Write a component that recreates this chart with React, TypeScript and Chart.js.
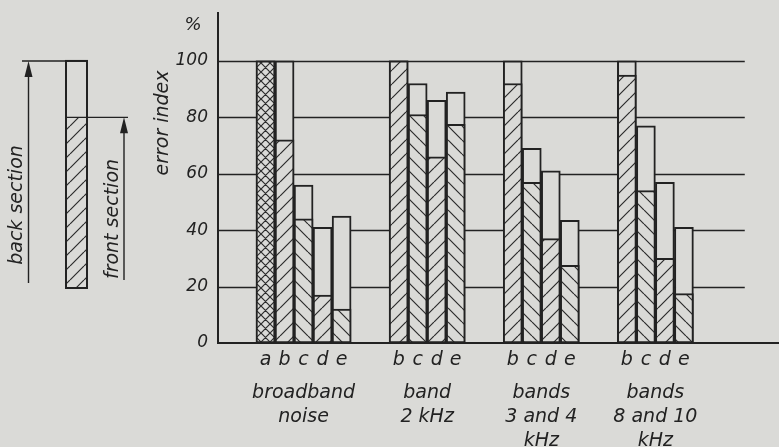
import React, { useEffect, useRef } from 'react';
import { Chart, registerables } from 'chart.js';

Chart.register(...registerables);

// ---- data ----
const groupLabels: string[][] = [
  ['broadband', 'noise'],
  ['band', '2 kHz'],
  ['bands', '3 and 4', 'kHz'],
  ['bands', '8 and 10', 'kHz'],
];
const groupLetters: string[][] = [
  ['a', 'b', 'c', 'd', 'e'],
  ['b', 'c', 'd', 'e'],
  ['b', 'c', 'd', 'e'],
  ['b', 'c', 'd', 'e'],
];
// error index (%) of the back section (bar total) and of the front section (hatched)
const backSection: number[][] = [
  [100, 100, 56, 41, 45],
  [100, 92, 86, 89],
  [100, 69, 61, 43.5],
  [100, 77, 57, 41],
];
const frontSection: number[][] = [
  [100, 72, 44, 17, 12],
  [100, 81, 66, 77.5],
  [92, 57, 37, 27.5],
  [95, 54, 30, 17.5],
];
const yTicks = [0, 20, 40, 60, 80, 100];
const yUnit = '%';
const yTitle = 'error index';
const legendBackLabel = 'back section';
const legendFrontLabel = 'front section';
const legendBackTop = 100;
const legendFrontTop = 80;
const legendBottom = 19.5;

// ---- styles / layout ----
const INK = '#222222';
const PAPER = '#dadad7';
const FONT = '"DejaVu Sans", "Liberation Sans", sans-serif';
const hatchByLetter: Record<string, string> = { a: 'x', b: '/', c: '\\', d: '/', e: '\\' };
const FIRST_SLOT = 2;
const GROUP_GAP = 2;
const X_MAX = 29.5;
const GRID_END = 27.7;
const Y_MAX = 117;

function makeHatch(kind: string): CanvasPattern {
  const size = kind === 'x' ? 9 : 14;
  const c = document.createElement('canvas');
  c.width = size;
  c.height = size;
  const g = c.getContext('2d')!;
  g.fillStyle = PAPER;
  g.fillRect(0, 0, size, size);
  g.strokeStyle = '#2c2c2c';
  g.lineWidth = 1.2;
  g.beginPath();
  const fwd = kind === '/' || kind === 'x';
  const bwd = kind === '\\' || kind === 'x';
  for (let k = -1; k <= 1; k++) {
    if (fwd) {
      g.moveTo(k * size, size);
      g.lineTo(k * size + size, 0);
    }
    if (bwd) {
      g.moveTo(k * size, 0);
      g.lineTo(k * size + size, size);
    }
  }
  g.stroke();
  return g.createPattern(c, 'repeat')!;
}

type Slot = { x: number; letter: string; g: number; i: number };

export default function App() {
  const ref = useRef<HTMLCanvasElement>(null);

  useEffect(() => {
    const canvas = ref.current!;
    const hatch: Record<string, CanvasPattern> = {
      x: makeHatch('x'),
      '/': makeHatch('/'),
      '\\': makeHatch('\\'),
    };

    const slots: Slot[] = [];
    let s = FIRST_SLOT;
    groupLetters.forEach((ls, g) => {
      ls.forEach((letter, i) => {
        slots.push({ x: s + 0.5, letter, g, i });
        s++;
      });
      s += GROUP_GAP;
    });

    const decor = {
      id: 'decor',
      beforeDatasetsDraw(chart: any) {
        const { ctx, chartArea, scales } = chart;
        const xs = scales.x;
        const ys = scales.y;
        ctx.save();
        ctx.strokeStyle = INK;
        ctx.lineWidth = 1.4;
        yTicks.forEach((v) => {
          if (v === 0) return;
          const y = Math.round(ys.getPixelForValue(v)) + 0.5;
          ctx.beginPath();
          ctx.moveTo(chartArea.left, y);
          ctx.lineTo(xs.getPixelForValue(GRID_END), y);
          ctx.stroke();
        });
        ctx.restore();
      },
      afterDraw(chart: any) {
        const { ctx, scales } = chart;
        const xs = scales.x;
        const ys = scales.y;
        ctx.save();
        ctx.fillStyle = INK;
        ctx.strokeStyle = INK;

        // unit
        ctx.font = `italic 18px ${FONT}`;
        ctx.textAlign = 'center';
        ctx.textBaseline = 'middle';
        ctx.fillText(yUnit, 193, 25);

        // y title
        ctx.font = `italic 19px ${FONT}`;
        ctx.save();
        ctx.translate(163, 123);
        ctx.rotate(-Math.PI / 2);
        ctx.fillText(yTitle, 0, 0);
        ctx.restore();

        // group labels
        ctx.font = `italic 19px ${FONT}`;
        groupLabels.forEach((lines, g) => {
          const members = slots.filter((p) => p.g === g);
          const x0 = xs.getPixelForValue(members[0].x - 0.5);
          const x1 = xs.getPixelForValue(members[members.length - 1].x + 0.5);
          const cx = (x0 + x1) / 2;
          lines.forEach((line, k) => {
            ctx.fillText(line, cx, 393 + k * 24);
          });
        });

        // legend diagram
        const yTop = ys.getPixelForValue(legendBackTop);
        const yMid = ys.getPixelForValue(legendFrontTop);
        const yBot = ys.getPixelForValue(legendBottom);
        const bx0 = 66;
        const bx1 = 87;
        ctx.fillStyle = hatch['/'];
        ctx.fillRect(bx0, yMid, bx1 - bx0, yBot - yMid);
        ctx.fillStyle = INK;
        ctx.lineWidth = 2;
        ctx.strokeRect(bx0, yTop, bx1 - bx0, yBot - yTop);
        ctx.lineWidth = 1.4;
        ctx.beginPath();
        ctx.moveTo(22, yTop);
        ctx.lineTo(bx1, yTop);
        ctx.moveTo(bx0, yMid);
        ctx.lineTo(128, yMid);
        ctx.moveTo(28.5, 283);
        ctx.lineTo(28.5, yTop + 6);
        ctx.moveTo(124, 280);
        ctx.lineTo(124, yMid + 6);
        ctx.stroke();
        const arrow = (x: number, y: number) => {
          ctx.beginPath();
          ctx.moveTo(x, y);
          ctx.lineTo(x - 4, y + 16);
          ctx.lineTo(x + 4, y + 16);
          ctx.closePath();
          ctx.fill();
        };
        arrow(28.5, yTop);
        arrow(124, yMid);

        ctx.font = `italic 19px ${FONT}`;
        ctx.save();
        ctx.translate(17, 205);
        ctx.rotate(-Math.PI / 2);
        ctx.fillText(legendBackLabel, 0, 0);
        ctx.restore();
        ctx.save();
        ctx.translate(113, 219);
        ctx.rotate(-Math.PI / 2);
        ctx.fillText(legendFrontLabel, 0, 0);
        ctx.restore();

        ctx.restore();
      },
    };

    const chart = new Chart(canvas, {
      type: 'bar',
      data: {
        datasets: [
          {
            label: 'back section',
            data: slots.map((p) => ({ x: p.x, y: backSection[p.g][p.i] })),
            backgroundColor: PAPER,
            borderColor: INK,
            borderWidth: 2,
            borderSkipped: false,
            grouped: false,
            order: 2,
          } as any,
          {
            label: 'front section',
            data: slots.map((p) => ({ x: p.x, y: frontSection[p.g][p.i] })),
            backgroundColor: slots.map((p) => hatch[hatchByLetter[p.letter]]),
            borderColor: INK,
            borderWidth: 2,
            borderSkipped: false,
            grouped: false,
            order: 1,
          } as any,
        ],
      },
      options: {
        animation: false,
        responsive: false,
        events: [],
        layout: { padding: { top: 13, left: 0, right: 0, bottom: 0 } },
        plugins: { legend: { display: false }, tooltip: { enabled: false } },
        datasets: { bar: { categoryPercentage: 1, barPercentage: 1 } } as any,
        scales: {
          x: {
            type: 'linear',
            offset: false,
            min: 0,
            max: X_MAX,
            grid: { display: false, drawTicks: false, offset: false },
            border: { display: true, color: INK, width: 2 },
            afterBuildTicks: (sc: any) => {
              sc.ticks = slots.map((p) => ({ value: p.x }));
            },
            afterFit: (sc: any) => {
              sc.height = 104;
              sc.paddingLeft = 0;
              sc.paddingRight = 0;
            },
            ticks: {
              autoSkip: false,
              maxRotation: 0,
              padding: 6,
              color: INK,
              font: { family: FONT, size: 19, style: 'italic' },
              callback: (v: any) => {
                const p = slots.find((q) => Math.abs(q.x - Number(v)) < 1e-6);
                return p ? p.letter : '';
              },
            },
          },
          y: {
            min: 0,
            max: Y_MAX,
            grid: { display: false, drawTicks: false },
            border: { display: true, color: INK, width: 2 },
            afterBuildTicks: (sc: any) => {
              sc.ticks = yTicks.map((v) => ({ value: v }));
            },
            afterFit: (sc: any) => {
              sc.width = 218;
              sc.paddingTop = 0;
              sc.paddingBottom = 0;
            },
            ticks: {
              padding: 10,
              color: INK,
              font: { family: FONT, size: 17, style: 'italic' },
              callback: (v: any) => String(v),
            },
          },
        },
      } as any,
      plugins: [decor],
    });
    return () => chart.destroy();
  }, []);

  return (
    <div style={{ position: 'absolute', left: 0, top: 0, width: 779, height: 447, background: PAPER }}>
      <canvas ref={ref} width={779} height={447} style={{ display: 'block' }} />
    </div>
  );
}
